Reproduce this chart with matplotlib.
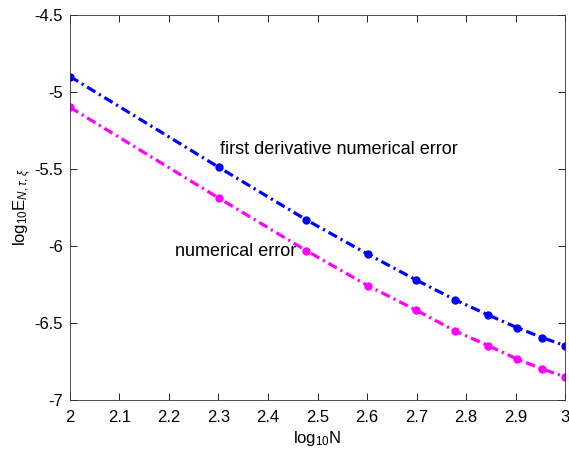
import matplotlib
matplotlib.use("Agg")
import matplotlib.pyplot as plt
import numpy as np

plt.rcParams['font.family'] = ['Liberation Sans', 'DejaVu Sans']
plt.rcParams['mathtext.fontset'] = 'custom'
plt.rcParams['mathtext.rm'] = 'Liberation Sans'
plt.rcParams['mathtext.it'] = 'Liberation Sans:italic'

N = [100, 200, 300, 400, 500, 600, 700, 800, 900, 1000]
deriv_err = [-4.90, -5.49, -5.83, -6.054, -6.22, -6.35, -6.448, -6.53, -6.595, -6.647]
num_err = [-5.10, -5.69, -6.03, -6.258, -6.416, -6.552, -6.647, -6.734, -6.799, -6.849]

logN = np.log10(N)

fig = plt.figure(figsize=(5.69, 4.51), dpi=100)
ax = fig.add_axes([0.123, 0.113, 0.870, 0.854])

# matlab style dash-dot, shorter than matplotlib's default
dd = (0, (3.0, 1.3, 0.7, 1.3))
ax.plot(logN, deriv_err, color=(0, 0, 1), ls=dd, lw=2.3, marker='o', ms=5)
ax.plot(logN, num_err, color=(1, 0, 1), ls=dd, lw=2.3, marker='o', ms=5)

ax.text(2.303, -5.40, "first derivative numerical error", fontsize=13)
ax.text(2.212, -6.065, "numerical error", fontsize=13)

ax.set_xlim(2, 3)
ax.set_ylim(-7, -4.5)
ax.set_xticks(np.arange(2, 3.01, 0.1))
ax.set_xticklabels(["2", "2.1", "2.2", "2.3", "2.4", "2.5", "2.6", "2.7", "2.8", "2.9", "3"])
ax.set_yticks(np.arange(-7, -4.49, 0.5))
ax.set_yticklabels(["-7", "-6.5", "-6", "-5.5", "-5", "-4.5"])
ax.tick_params(direction='in', top=True, right=True, labelsize=12, length=5, width=0.6)
ax.tick_params(axis='x', pad=7)
ax.tick_params(axis='y', pad=5)
for s in ax.spines.values():
    s.set_linewidth(0.6)
    s.set_color('#333333')

ax.set_xlabel(r"log$_{10}$N", fontsize=12, labelpad=3)
ax.set_ylabel(r"log$_{10}$E$_{N,\tau,\xi}$", fontsize=12, labelpad=1)

fig.savefig("out.png", dpi=100)
